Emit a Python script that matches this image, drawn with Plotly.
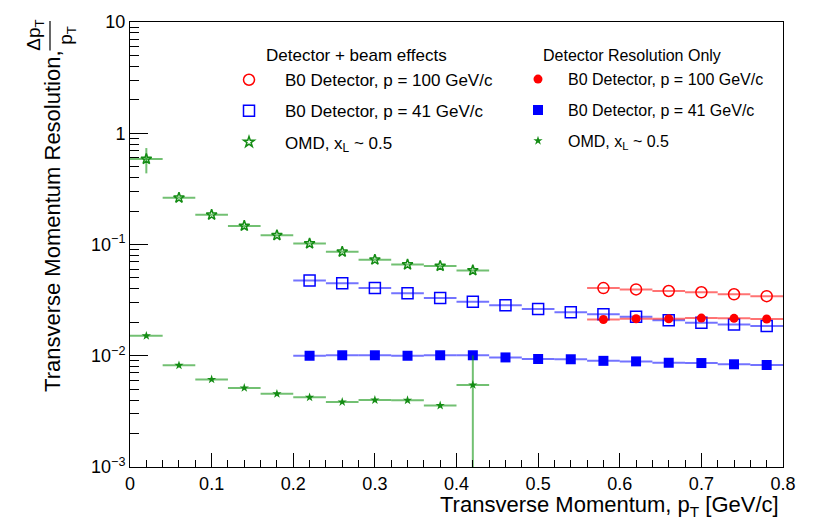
import plotly.graph_objects as go

# ---- data ----
x_omd = [0.02, 0.06, 0.10, 0.14, 0.18, 0.22, 0.26, 0.30, 0.34, 0.38, 0.42]
omd_beam = [0.586, 0.263, 0.185, 0.147, 0.121, 0.102, 0.086, 0.073, 0.066, 0.064, 0.0585]
omd_beam_err = [0.15, 0, 0, 0, 0, 0, 0, 0, 0, 0, 0]
omd_det = [0.0151, 0.0082, 0.00613, 0.00514, 0.00455, 0.00423, 0.00384, 0.0040, 0.00398, 0.00357, 0.00547]
omd_det_err_up = [0, 0, 0, 0, 0, 0, 0, 0, 0, 0, 0.0046]
omd_det_err_dn = [0, 0, 0, 0, 0, 0, 0, 0, 0, 0, 0.0050]

x_b41 = [0.22, 0.26, 0.30, 0.34, 0.38, 0.42, 0.46, 0.50, 0.54, 0.58, 0.62, 0.66, 0.70, 0.74, 0.78]
b41_beam = [0.0475, 0.0449, 0.0406, 0.0364, 0.0331, 0.0305, 0.0284, 0.0263, 0.0246, 0.0236, 0.0224, 0.0209, 0.0198, 0.0191, 0.0185]
b41_det = [0.0100, 0.0101, 0.0101, 0.0100, 0.0101, 0.0101, 0.00966, 0.00935, 0.0093, 0.0090, 0.0089, 0.00865, 0.0086, 0.00838, 0.00826]

x_b100 = [0.58, 0.62, 0.66, 0.70, 0.74, 0.78]
b100_beam = [0.0406, 0.0395, 0.0382, 0.0372, 0.0357, 0.0343]
b100_det = [0.0212, 0.0215, 0.0215, 0.0218, 0.0217, 0.0214]

bin_half = 0.02

y_tickvals = [0.001, 0.01, 0.1, 1, 10]
y_ticktext = ["10<sup>\u22123</sup>", "10<sup>\u22122</sup>", "10<sup>\u22121</sup>", "1", "10"]
y_minor = [m * 10 ** e for e in range(-3, 1) for m in range(2, 10)]

labels = ["B0 Detector, p = 100 GeV/c", "B0 Detector, p = 41 GeV/c", "OMD, x<sub>L</sub> ~ 0.5"]
headers = ["Detector + beam effects", "Detector Resolution Only"]

RED = "rgb(255,0,0)"
RED_L = "rgba(255,0,0,0.55)"
BLUE = "rgb(0,0,255)"
BLUE_L = "rgba(0,0,255,0.55)"
GREEN = "rgb(20,140,20)"
GREEN_L = "rgba(20,150,20,0.6)"

FONT = "Liberation Sans, Arial, Helvetica, sans-serif"

fig = go.Figure()


def add(x, y, color, lcolor, symbol, size, name, legend, group, ey=None, eym=None, lw=1.5):
    ex = dict(type="constant", value=bin_half, width=0, thickness=2, color=lcolor)
    if ey is not None:
        eyd = dict(type="data", array=ey, width=0, thickness=2, color=lcolor)
        if eym is not None:
            eyd["symmetric"] = False
            eyd["arrayminus"] = eym
    else:
        eyd = dict(visible=False)
    fig.add_trace(go.Scatter(
        x=x, y=y, mode="markers", name=name, legend=legend, legendgroup=group,
        marker=dict(symbol=symbol, size=size, color=color, line=dict(color=color, width=lw)),
        error_x=ex, error_y=eyd, cliponaxis=True,
    ))


# Detector + beam effects (legend 1)
add(x_b100, b100_beam, RED, RED_L, "circle-open", 11, labels[0], "legend", "a1")
add(x_b41, b41_beam, BLUE, BLUE_L, "square-open", 11, labels[1], "legend", "a2")
add(x_omd, omd_beam, GREEN, GREEN_L, "star-open", 8, labels[2], "legend", "a3", ey=omd_beam_err)

# Detector resolution only (legend 2)
add(x_b100, b100_det, RED, RED_L, "circle", 9, labels[0], "legend2", "b1", lw=0)
add(x_b41, b41_det, BLUE, BLUE_L, "square", 10, labels[1], "legend2", "b2", lw=0)
add(x_omd, omd_det, GREEN, GREEN_L, "star", 7, labels[2], "legend2", "b3",
    ey=omd_det_err_up, eym=omd_det_err_dn, lw=0)

PW = 653.0
PH = 454.0

fig.update_layout(
    width=818, height=517, autosize=False,
    margin=dict(l=130, r=35, t=13, b=50, pad=0),
    paper_bgcolor="white", plot_bgcolor="white",
    font=dict(family=FONT, color="black", size=18),
    showlegend=True,
    legend=dict(
        x=(213 - 130) / PW, y=1 - (54 - 13) / PH, xanchor="left", yanchor="top",
        bgcolor="rgba(0,0,0,0)", font=dict(size=17, family=FONT),
        itemwidth=62, tracegroupgap=6, traceorder="grouped",
    ),
    legend2=dict(
        x=(508 - 130) / PW, y=1 - (54 - 13) / PH, xanchor="left", yanchor="top",
        bgcolor="rgba(0,0,0,0)", font=dict(size=16, family=FONT),
        itemwidth=50, tracegroupgap=7, traceorder="grouped",
    ),
    xaxis=dict(
        range=[0, 0.8], showline=True, linecolor="black", linewidth=1, mirror=True,
        ticks="inside", ticklen=14, tickwidth=1, tickcolor="black",
        tick0=0, dtick=0.1, showgrid=False, zeroline=False,
        tickfont=dict(size=18, family=FONT),
        minor=dict(ticks="inside", ticklen=7, tickcolor="black", dtick=0.02, tick0=0, showgrid=False),
    ),
    yaxis=dict(
        type="log", range=[-3, 1], showline=True, linecolor="black", linewidth=1, mirror=True,
        ticks="inside", ticklen=18, tickwidth=1, tickcolor="black",
        tickmode="array", tickvals=y_tickvals, ticktext=y_ticktext,
        showgrid=False, zeroline=False, tickfont=dict(size=18, family=FONT),
        minor=dict(ticks="inside", ticklen=9, tickcolor="black", tickmode="array",
                   tickvals=y_minor, showgrid=False),
    ),
)

# legend headers
fig.add_annotation(
    text=headers[0], xref="paper", yref="paper",
    x=(356 - 130) / PW, y=(467 - 47) / PH, xanchor="center", yanchor="middle",
    showarrow=False, font=dict(size=17, family=FONT),
)
fig.add_annotation(
    text=headers[1], xref="paper", yref="paper",
    x=(632 - 130) / PW, y=(467 - 47) / PH, xanchor="center", yanchor="middle",
    showarrow=False, font=dict(size=16, family=FONT),
)

# axis titles
fig.add_annotation(
    text="Transverse Momentum, p<sub>T</sub> [GeV/c]", xref="paper", yref="paper",
    x=(781 - 130) / PW, y=-(507 - 467) / PH, xanchor="right", yanchor="middle", showarrow=False,
    font=dict(size=22, family=FONT),
)
fig.add_annotation(
    text="Transverse Momentum Resolution,", xref="paper", yref="paper",
    x=(53 - 130) / PW, y=(467 - 216) / PH, xanchor="center", yanchor="middle",
    textangle=-90, showarrow=False, font=dict(size=22, family=FONT),
)
fig.add_annotation(
    text="\u0394p<sub>T</sub>", xref="paper", yref="paper",
    x=(35 - 130) / PW, y=(467 - 27) / PH, xanchor="center", yanchor="middle",
    textangle=-90, showarrow=False, font=dict(size=19, family=FONT),
)
fig.add_annotation(
    text="p<sub>T</sub>", xref="paper", yref="paper",
    x=(67 - 130) / PW, y=(467 - 27) / PH, xanchor="center", yanchor="middle",
    textangle=-90, showarrow=False, font=dict(size=19, family=FONT),
)
fig.add_shape(
    type="line", xref="paper", yref="paper",
    x0=(50 - 130) / PW, x1=(50 - 130) / PW, y0=(467 - 12) / PH, y1=(467 - 42) / PH,
    line=dict(color="black", width=1.2),
)

fig.write_html("out.html")
